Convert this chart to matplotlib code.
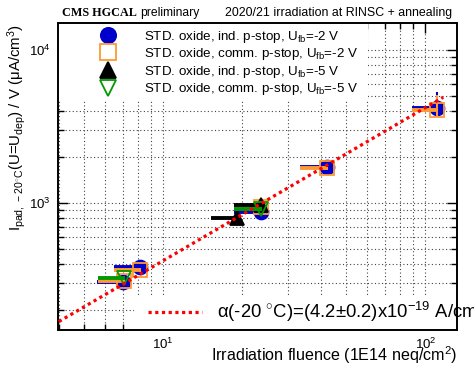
import matplotlib
matplotlib.use('Agg')
import matplotlib.pyplot as plt
from matplotlib.lines import Line2D
from matplotlib.patches import Rectangle
from matplotlib.ticker import LogLocator, NullFormatter

plt.rcParams['font.family'] = ['Liberation Sans', 'DejaVu Sans']
plt.rcParams['mathtext.fontset'] = 'custom'
plt.rcParams['mathtext.rm'] = 'Liberation Sans'
plt.rcParams['mathtext.it'] = 'Liberation Sans:italic'
plt.rcParams['mathtext.bf'] = 'Liberation Sans:bold'

# fluence (1E14 neq/cm2), lower fluence error, current / volume (uA/cm3), errors
flu_ind2 = [7.05, 8.17, 23.7, 42.3, 111]
flo_ind2 = [1.45, 1.7, 5.0, 9.0, 22]
cur_ind2 = [306, 380, 877, 1711, 4160]
elo_ind2 = [8, 10, 25, 45, 500]
ehi_ind2 = [8, 10, 25, 45, 1150]

flu_com2 = [7.1, 8.17, 23.7, 42.3, 111]
flo_com2 = [1.45, 1.7, 5.0, 9.0, 22]
cur_com2 = [309, 365, 946, 1686, 4055]
elo_com2 = [8, 10, 25, 45, 420]
ehi_com2 = [8, 10, 25, 45, 1025]

flu_ind5 = [19.2, 23.7]
flo_ind5 = [4.0, 5.0]
cur_ind5 = [794, 970]
err_ind5 = [20, 25]

flu_com5 = [7.1, 23.7]
flo_com5 = [1.45, 5.0]
cur_com5 = [324, 914]
err_com5 = [8, 25]

alpha = 4.2        # 1e-19 A/cm
fit_range = [4.0, 117]

series = [
    (flu_ind2, flo_ind2, cur_ind2, [elo_ind2, ehi_ind2], 'o', '#0000cc', True,
     'STD. oxide, ind. p-stop, U$_{\\mathrm{fb}}$=-2 V'),
    (flu_com2, flo_com2, cur_com2, [elo_com2, ehi_com2], 's', '#ff9933', False,
     'STD. oxide, comm. p-stop, U$_{\\mathrm{fb}}$=-2 V'),
    (flu_ind5, flo_ind5, cur_ind5, err_ind5, '^', 'black', True,
     'STD. oxide, ind. p-stop, U$_{\\mathrm{fb}}$=-5 V'),
    (flu_com5, flo_com5, cur_com5, err_com5, 'v', '#009900', False,
     'STD. oxide, comm. p-stop, U$_{\\mathrm{fb}}$=-5 V'),
]

fig = plt.figure(figsize=(4.74, 3.65), dpi=100)
ax = fig.add_axes([0.1224, 0.0959, 0.8417, 0.841])

handles = []
for i, (x, xlo, y, yerr, mk, col, filled, lab) in enumerate(series):
    ax.errorbar(x, y, xerr=[xlo, [0] * len(x)], fmt='none', ecolor=col,
                elinewidth=2.8, capsize=0, zorder=3 + i)
    ax.errorbar(x, y, yerr=yerr, fmt=mk, color=col, ecolor=col, elinewidth=1.5,
                capsize=0, markersize=10, markeredgewidth=1.3,
                markerfacecolor=col if filled else 'none', zorder=3 + i)
    handles.append(Line2D([], [], marker=mk, linestyle='none', color=col, markersize=11,
                          markeredgewidth=1.3, markerfacecolor=col if filled else 'none',
                          label=lab))

fit_y = [alpha * 10 * f for f in fit_range]
fit_line, = ax.plot(fit_range, fit_y, color='red', linewidth=2.3,
                    linestyle=(0, (1, 1.1)), zorder=10)

ax.set_xscale('log')
ax.set_yscale('log')
ax.set_xlim(3.97, 132)
ax.set_ylim(148, 15000)

for a in (ax.xaxis, ax.yaxis):
    a.set_minor_locator(LogLocator(base=10, subs=range(2, 10), numticks=20))
    a.set_minor_formatter(NullFormatter())
ax.tick_params(which='both', direction='in', top=True, right=True, labelsize=9.5)
ax.tick_params(which='major', length=7, width=1.0, pad=5)
ax.tick_params(which='minor', length=4, width=1.0)
ax.grid(True, which='both', color='#444444', linewidth=0.8, linestyle=(0, (1, 2.2)))
for s in ax.spines.values():
    s.set_linewidth(1.4)

# white legend areas hide the grid
ax.add_patch(Rectangle((0, 0.749), 0.777, 0.251, transform=ax.transAxes,
                       facecolor='white', edgecolor='none', zorder=1.7))
ax.add_patch(Rectangle((0.19, 0), 0.81, 0.114, transform=ax.transAxes,
                       facecolor='white', edgecolor='none', zorder=1.7))

leg1 = ax.legend(handles=handles, loc='upper left', bbox_to_anchor=(0.099, 0.982),
                 frameon=False, fontsize=9.6, borderpad=0, handlelength=1.5,
                 handletextpad=1.95, labelspacing=0.12, borderaxespad=0)
ax.add_artist(leg1)
fit_lab = r'α(-20 $^{\circ}$C)=(4.2$\pm$0.2)x10$^{-19}$ A/cm'
leg2 = ax.legend([fit_line], [fit_lab], loc='center left', bbox_to_anchor=(0.2256, 0.0586),
                 frameon=False, fontsize=13.3, borderpad=0, handlelength=2.9,
                 handletextpad=0.85, borderaxespad=0)

ax.set_xlabel('Irradiation fluence (1E14 neq/cm$^{2}$)', loc='right', fontsize=11.6)
ax.xaxis.set_label_coords(1.0, -0.046)
ax.set_ylabel(r'I$_{\mathrm{pad,\,-20^{\circ}C}}$(U=U$_{\mathrm{dep}}$) / V (μA/cm$^{3}$)',
              loc='top', fontsize=10.8)
ax.yaxis.set_label_coords(-0.075, 0.995)

fig.text(0.131, 0.964, 'CMS HGCAL', family=['Liberation Serif'], weight='bold',
         fontsize=8.7, va='center')
fig.text(0.295, 0.964, 'preliminary', fontsize=8.7, va='center')
fig.text(0.954, 0.964, '2020/21 irradiation at RINSC + annealing', fontsize=8.9,
         va='center', ha='right')

fig.savefig('out.png', dpi=100)
